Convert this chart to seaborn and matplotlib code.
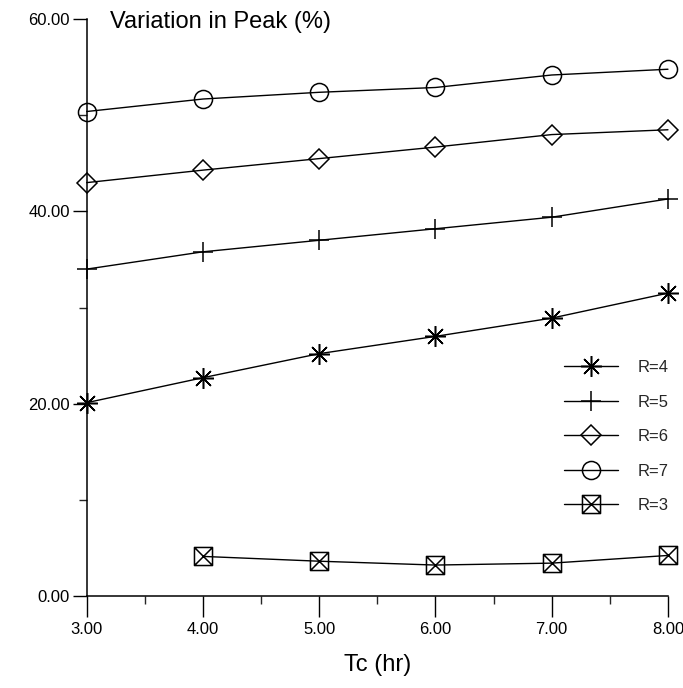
import numpy as np
import pandas as pd
import matplotlib
matplotlib.use("Agg")
import matplotlib.pyplot as plt
from matplotlib.path import Path
from matplotlib.ticker import MultipleLocator
import seaborn as sns

sns.set_theme(style="ticks")
plt.rcParams['font.family'] = ['Liberation Sans', 'DejaVu Sans']

tc = [3.0, 4.0, 5.0, 6.0, 7.0, 8.0]
r4 = [20.1, 22.7, 25.2, 27.0, 28.9, 31.5]
r5 = [34.0, 35.8, 37.0, 38.2, 39.4, 41.3]
r6 = [43.0, 44.3, 45.5, 46.7, 48.0, 48.5]
r7 = [50.4, 51.7, 52.4, 52.9, 54.2, 54.8]
tc3 = [4.0, 5.0, 6.0, 7.0, 8.0]
r3 = [4.1, 3.6, 3.2, 3.4, 4.2]

xticks = [3.0, 4.0, 5.0, 6.0, 7.0, 8.0]
yticks = [0.0, 20.0, 40.0, 60.0]

# square with crossed diagonals marker
boxx = Path([(-1, -1), (1, -1), (1, 1), (-1, 1), (-1, -1), (-1, -1), (1, 1), (1, -1), (-1, 1)],
            [Path.MOVETO, Path.LINETO, Path.LINETO, Path.LINETO, Path.CLOSEPOLY,
             Path.MOVETO, Path.LINETO, Path.MOVETO, Path.LINETO])

series = [
    ("R=4", tc, r4, (8, 2, 0), 15),
    ("R=5", tc, r5, "+", 14),
    ("R=6", tc, r6, "D", 10),
    ("R=7", tc, r7, "o", 13),
    ("R=3", tc3, r3, boxx, 13),
]

fig = plt.figure(figsize=(6.83, 6.88), dpi=100)
ax = fig.add_axes([0.127, 0.134, 0.851, 0.838])

for label, xs, ys, mk, ms in series:
    df = pd.DataFrame({"Tc": xs, "val": ys})
    sns.lineplot(data=df, x="Tc", y="val", ax=ax, color="black", linewidth=1.0,
                 marker=mk, markersize=ms, markerfacecolor="none",
                 markeredgecolor="black", markeredgewidth=1.1, label=label,
                 clip_on=False)

ax.set_xlim(3, 8)
ax.set_ylim(0, 60)
ax.set_xticks(xticks)
ax.set_xticklabels([f"{v:.2f}" for v in xticks])
ax.set_yticks(yticks)
ax.set_yticklabels([f"{v:.2f}" for v in yticks])
ax.xaxis.set_minor_locator(MultipleLocator(0.5))
ax.yaxis.set_minor_locator(MultipleLocator(10))
ax.tick_params(axis="x", which="major", direction="out", length=15, width=1.0,
               labelsize=12, pad=4, colors="black")
ax.tick_params(axis="x", which="minor", direction="out", length=6, width=1.0)
ax.tick_params(axis="y", which="major", direction="out", length=10, width=1.0,
               labelsize=12, pad=2, colors="black")
ax.tick_params(axis="y", which="minor", direction="out", length=6, width=1.0)
for s in ["top", "right"]:
    ax.spines[s].set_visible(False)
for s in ["left", "bottom"]:
    ax.spines[s].set_color("black")
    ax.spines[s].set_linewidth(1.1)

ax.set_ylabel("")
ax.set_xlabel("Tc (hr)", fontsize=17, labelpad=12, color="black")
fig.text(0.161, 0.968, "Variation in Peak (%)", fontsize=17, ha="left", va="center",
         color="black")

leg = ax.legend(loc="upper left", bbox_to_anchor=(0.81, 0.42), frameon=False,
                fontsize=12, handlelength=3.2, labelspacing=1.17, handletextpad=1.2,
                borderaxespad=0)

fig.savefig("out.png", dpi=100, facecolor="white")
